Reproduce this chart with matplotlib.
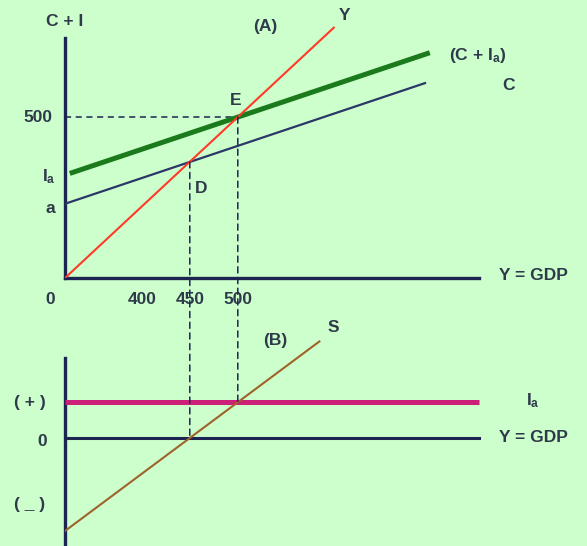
import matplotlib
matplotlib.use("Agg")
import matplotlib.pyplot as plt
from matplotlib.patches import ConnectionPatch

plt.rcParams['mathtext.fontset'] = 'custom'
plt.rcParams['mathtext.bf'] = 'Liberation Sans:bold'
plt.rcParams['mathtext.rm'] = 'Liberation Sans:bold'

# schematic units: x origin sits at 320 (broken axis drawn as "0")
x0 = 320
y_line_x = [320, 600]
y_line_y = [320, 600]
c_x = [320, 695]
c_y = [403, 538]
ci_x = [325, 700]
ci_y = [437, 572]
pt_D = (450, 450)
pt_E = (500, 500)
xticks = [400, 450, 500]
xtick_labels = ['400', '450', '500']

# lower panel
s_x = [320, 585]
s_y = [-104, 108]
ia_level = 40
line_end = 751

bg = '#ccffcc'
navy = '#1c2552'
txt = '#2e3a4a'
W, H = 587, 546

fig = plt.figure(figsize=(W / 100, H / 100), dpi=100)
fig.patch.set_facecolor(bg)

xs = 0.96   # px per unit
ys = 0.894
xlim = (x0, x0 + (W - 65) / xs)

ax = fig.add_axes([65 / W, (H - 278) / H, (W - 65) / W, 278 / H])
ax2 = fig.add_axes([65 / W, 0, (W - 65) / W, (H - 280) / H])
for a in (ax, ax2):
    a.set_facecolor('none')
    a.set_xlim(*xlim)
    a.spines['top'].set_visible(False)
    a.spines['right'].set_visible(False)
    for s in ('left', 'bottom'):
        a.spines[s].set_color(navy)
        a.spines[s].set_linewidth(2.4)
    a.tick_params(length=0)
    a.set_yticks([])
    a.set_xticks([])

ax.set_ylim(x0, x0 + 278 / ys)
ax.spines['left'].set_bounds(x0, x0 + 240 / ys)
ax.spines['bottom'].set_bounds(x0, line_end)

ylo = -(H - 438) / ys
ax2.set_ylim(ylo, (438 - 280) / ys)
ax2.spines['bottom'].set_visible(False)
ax2.spines['left'].set_bounds(ylo, (438 - 358) / ys)

fs = 12.5
kw = dict(color=txt, fontsize=fs, fontweight='bold', family='Liberation Sans',
          ha='center', va='center')

# upper panel lines
ax.plot(ci_x, ci_y, color='#1b7a1b', lw=3.6, solid_capstyle='butt', zorder=3)
ax.plot(c_x, c_y, color='#2a3768', lw=1.6, zorder=3)
ax.plot(y_line_x, y_line_y, color='#ff3a28', lw=1.5, zorder=4)
ax.plot([x0, pt_E[0]], [pt_E[1], pt_E[1]], color=navy, lw=1.1, ls=(0, (4, 3)))

# vertical dashed drops into lower panel
for (px, py), low in ((pt_E, ia_level), (pt_D, 0)):
    con = ConnectionPatch(xyA=(px, py), coordsA=ax.transData,
                          xyB=(px, low), coordsB=ax2.transData,
                          color=navy, lw=1.1, ls=(0, (4, 3)), zorder=2)
    fig.add_artist(con)

ax.text(x0 - 15 / xs, x0 - 21 / ys, '0', **kw)
for xv, lab in zip(xticks, xtick_labels):
    ax.text(xv, x0 - 21 / ys, lab, **kw)
ax.text(x0 - 27 / xs, pt_E[1], '500', **kw)
ax.text(x0 - 16 / xs, 433, r'$\mathbf{I_a}$', **kw)
ax.text(x0 - 15 / xs, 398, 'a', **kw)
ax.text(x0, x0 + 256 / ys, 'C + I', **kw)
ax.text(x0 + 200 / xs, x0 + 251 / ys, '(A)', **kw)
ax.text(x0 + 280 / xs, x0 + 262 / ys, 'Y', **kw)
ax.text(x0 + 413 / xs, x0 + 222 / ys, r'(C + $\mathbf{I_a}$)', **kw)
ax.text(x0 + 444 / xs, x0 + 192 / ys, 'C', **kw)
ax.text(x0 + 468 / xs, x0 + 2 / ys, 'Y = GDP', **kw)
ax.text(pt_E[0] - 2 / xs, pt_E[1] + 17 / ys, 'E', **kw)
ax.text(pt_D[0] + 11 / xs, pt_D[1] - 27 / ys, 'D', **kw)

# lower panel lines
ax2.plot([x0, line_end], [ia_level, ia_level], color='#cc1f78', lw=3.6,
         solid_capstyle='butt', zorder=3)
ax2.plot([x0, line_end], [0, 0], color=navy, lw=2.2, zorder=3)
ax2.plot(s_x, s_y, color='#a0622a', lw=1.5, zorder=4)

ax2.text(x0 - 35 / xs, ia_level, '( + )', **kw)
ax2.text(x0 - 23 / xs, -4 / ys, '0', **kw)
ax2.text(x0 - 35 / xs, -67 / ys, '( _ )', **kw)
ax2.text(x0 + 210 / xs, 98 / ys, '(B)', **kw)
ax2.text(x0 + 268 / xs, 110 / ys, 'S', **kw)
ax2.text(x0 + 468 / xs, 37 / ys, r'$\mathbf{I_a}$', **kw)
ax2.text(x0 + 468 / xs, 0, 'Y = GDP', **kw)

fig.savefig('out.png', dpi=100, facecolor=bg)
